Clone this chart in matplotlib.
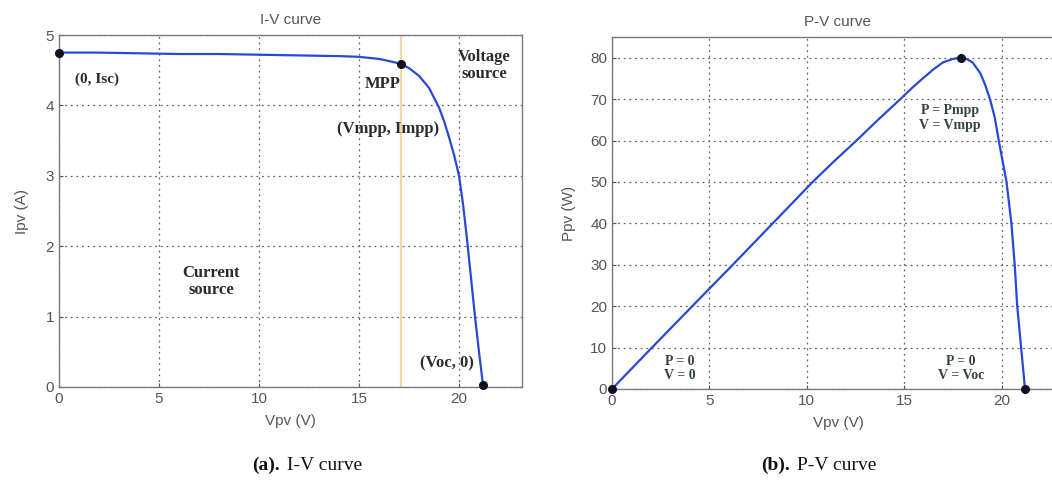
import matplotlib.pyplot as plt
import numpy as np

# I-V curve data
v_iv = [0, 2, 4, 6, 8, 10, 12, 14, 15, 16, 16.5, 17.1, 17.5, 18, 18.5, 19, 19.25, 19.5, 19.75, 20, 20.2, 20.4, 20.6, 20.8, 21.0, 21.2]
i_iv = [4.75, 4.75, 4.74, 4.73, 4.73, 4.72, 4.71, 4.70, 4.69, 4.66, 4.63, 4.59, 4.53, 4.42, 4.25, 3.97, 3.78, 3.55, 3.3, 3.0, 2.6, 2.1, 1.55, 1.0, 0.5, 0.03]
iv_points_v = [0, 17.1, 21.2]
iv_points_i = [4.75, 4.59, 0.03]
v_mpp_line = 17.1

# P-V curve data
v_pv = [0, 2.05, 4.12, 6.2, 8.25, 10.3, 11.4, 12.55, 13.7, 14.8, 15.4, 16.0, 16.5, 17.0, 17.5, 17.9, 18.2, 18.5, 18.9, 19.15, 19.4, 19.65, 19.85, 20.05, 20.25, 20.5, 20.67, 20.8, 21.0, 21.2]
p_pv = [0, 10, 20, 30, 40, 50, 55, 60, 65.2, 70, 72.7, 75.2, 77.2, 78.9, 79.7, 80, 79.7, 78.9, 76.3, 73.5, 70, 65.5, 60, 55, 50, 40, 30, 20, 10, 0]
pv_points_v = [0, 17.9, 21.2]
pv_points_p = [0, 80, 0]

LINE = '#2848d8'
GRAY = '#555555'
NOTE = '#2b2b2b'
SERIF = 'Liberation Serif'
SANS = 'Liberation Sans'

fig = plt.figure(figsize=(10.52, 4.83), dpi=100)

def style_axes(ax):
    ax.grid(True, linestyle=(0, (1.5, 3)), color='#666666', linewidth=0.9)
    for s in ax.spines.values():
        s.set_color('#7a7a7a')
        s.set_linewidth(1.0)
    ax.tick_params(colors=GRAY, labelcolor=GRAY, labelsize=11, length=3, direction='in')
    for lab in ax.get_xticklabels() + ax.get_yticklabels():
        lab.set_family(SANS)

# ---- (a) I-V
ax1 = fig.add_axes([59 / 1052, 96 / 483, 463 / 1052, 352 / 483])
ax1.axvline(v_mpp_line, color='#f6d6a6', linewidth=1.6, zorder=1)
ax1.plot(v_iv, i_iv, color=LINE, linewidth=1.6, zorder=3)
ax1.plot(iv_points_v, iv_points_i, 'o', color='#111122', markersize=5.5, zorder=4, clip_on=False)
ax1.set_xlim(0, 23.15)
ax1.set_ylim(0, 5)
ax1.set_xticks([0, 5, 10, 15, 20])
ax1.set_yticks([0, 1, 2, 3, 4, 5])
style_axes(ax1)
ax1.set_title('I-V curve', fontsize=11, color=GRAY, family=SANS, pad=8)
ax1.set_xlabel('Vpv (V)', fontsize=11, color=GRAY, family=SANS, labelpad=6)
ax1.set_ylabel('Ipv (A)', fontsize=11, color=GRAY, family=SANS, labelpad=12)

tk = dict(family=SERIF, fontweight='bold', color=NOTE, fontsize=11, ha='center', va='center')
ax1.text(1.9, 4.37, '(0, Isc)', **tk)
ax1.text(16.2, 4.3, 'MPP', **{**tk, 'fontsize': 12})
ax1.text(16.45, 3.66, '(Vmpp, Impp)', **{**tk, 'fontsize': 12})
ax1.text(21.25, 4.57, 'Voltage\nsource', linespacing=1.1, **{**tk, 'fontsize': 12})
ax1.text(7.6, 1.5, 'Current\nsource', linespacing=1.1, **{**tk, 'fontsize': 12})
ax1.text(19.4, 0.33, '(Voc, 0)', **{**tk, 'fontsize': 12})

# ---- (b) P-V
ax2 = fig.add_axes([612 / 1052, 94 / 483, 452 / 1052, 352 / 483])
ax2.plot(v_pv, p_pv, color=LINE, linewidth=1.6, zorder=3)
ax2.plot(pv_points_v, pv_points_p, 'o', color='#111122', markersize=5.5, zorder=4, clip_on=False)
ax2.set_xlim(0, 23.2)
ax2.set_ylim(0, 85)
ax2.set_xticks([0, 5, 10, 15, 20])
ax2.set_yticks(np.arange(0, 81, 10))
style_axes(ax2)
ax2.set_title('P-V curve', fontsize=11, color=GRAY, family=SANS, pad=8)
ax2.set_xlabel('Vpv (V)', fontsize=11, color=GRAY, family=SANS, labelpad=6)
ax2.set_ylabel('Ppv (W)', fontsize=11, color=GRAY, family=SANS, labelpad=10)

pk = dict(family=SERIF, fontweight='bold', color='#34443c', fontsize=10, ha='center', va='center', linespacing=1.15)
ax2.text(17.35, 65.5, 'P = Pmpp\nV = Vmpp', **pk)
ax2.text(3.5, 5.0, 'P = 0\nV = 0', **pk)
ax2.text(17.9, 5.0, 'P = 0\nV = Voc', **pk)

# captions
fig.text(280 / 1052, 1 - 465 / 483, '(a).', family=SERIF, fontweight='bold', fontsize=14,
         ha='right', va='center', color='#111111')
fig.text(282 / 1052, 1 - 465 / 483, ' I-V curve', family=SERIF, fontsize=14,
         ha='left', va='center', color='#111111')
fig.text(790 / 1052, 1 - 465 / 483, '(b).', family=SERIF, fontweight='bold', fontsize=14,
         ha='right', va='center', color='#111111')
fig.text(792 / 1052, 1 - 465 / 483, ' P-V curve', family=SERIF, fontsize=14,
         ha='left', va='center', color='#111111')

plt.savefig('out.png', dpi=100)
plt.close(fig)
